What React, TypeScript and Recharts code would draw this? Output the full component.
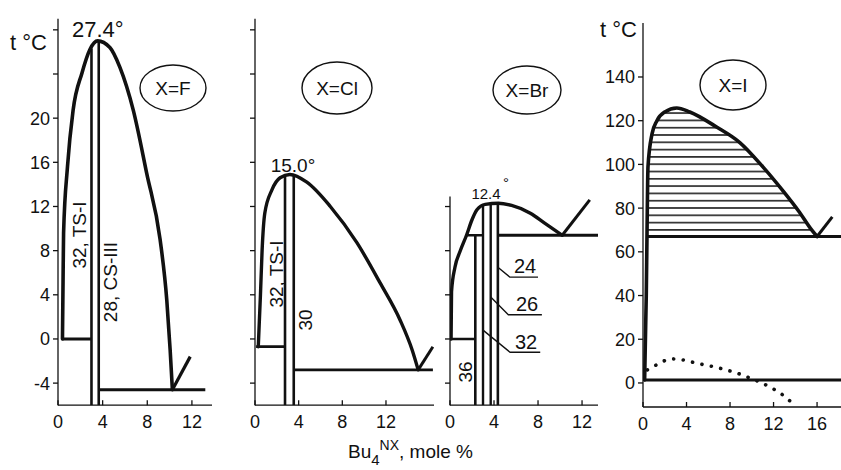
import React from 'react';
import { ComposedChart, Line, Area, XAxis, YAxis } from 'recharts';

const FONT = "'Liberation Sans', Arial, sans-serif";
const INK = '#111';

// ---------- X = F ----------
const fCurve = [
  { x: 0.4, t: 0 }, { x: 0.45, t: 5 }, { x: 0.5, t: 9.6 }, { x: 0.85, t: 15.6 },
  { x: 1.35, t: 20.7 }, { x: 2.15, t: 24.1 }, { x: 2.85, t: 26.2 }, { x: 3.55, t: 27.0 },
  { x: 4.65, t: 26.4 }, { x: 5.55, t: 24.6 }, { x: 6.75, t: 20.7 }, { x: 7.95, t: 15 },
  { x: 9.15, t: 9 }, { x: 9.75, t: 3.5 }, { x: 10.05, t: -1 }, { x: 10.25, t: -4.6 },
];
const fVert1 = [{ x: 3.0, t: -6 }, { x: 3.0, t: 26.3 }];
const fVert2 = [{ x: 3.65, t: -6 }, { x: 3.65, t: 27.0 }];
const fZeroLine = [{ x: 0.4, t: 0 }, { x: 3.0, t: 0 }];
const fEutLine = [{ x: 3.65, t: -4.6 }, { x: 13.2, t: -4.6 }];
const fTick = [{ x: 10.25, t: -4.6 }, { x: 11.85, t: -1.6 }];
const fYTicks = [-4, 0, 4, 8, 12, 16, 20, 24, 28];
const fYLabelMax = 20;
const fXTicks = [0, 4, 8, 12];

// ---------- X = Cl ----------
const clCurve = [
  { x: 0.3, t: -0.7 }, { x: 0.5, t: 4 }, { x: 0.65, t: 8 }, { x: 0.9, t: 11.4 },
  { x: 1.55, t: 13.5 }, { x: 2.3, t: 14.6 }, { x: 3.2, t: 14.9 }, { x: 4.75, t: 14.2 },
  { x: 6.9, t: 12 }, { x: 9.35, t: 8.7 }, { x: 11.45, t: 5.1 }, { x: 13.3, t: 1.7 },
  { x: 14.4, t: -1 }, { x: 14.95, t: -2.8 },
];
const clVert1 = [{ x: 2.75, t: -6 }, { x: 2.75, t: 14.75 }];
const clVert2 = [{ x: 3.55, t: -6 }, { x: 3.55, t: 14.9 }];
const clLowLine = [{ x: 0.1, t: -0.7 }, { x: 2.75, t: -0.7 }];
const clEutLine = [{ x: 3.55, t: -2.8 }, { x: 16.3, t: -2.8 }];
const clTick = [{ x: 14.95, t: -2.8 }, { x: 16.3, t: -0.7 }];
const clYTicks = [-4, 0, 4, 8, 12, 16, 20, 24, 28];
const clXTicks = [0, 4, 8, 12];

// ---------- X = Br ----------
const brCurve = [
  { x: 0.1, t: 0 }, { x: 0.14, t: 4.3 }, { x: 0.45, t: 6.5 }, { x: 0.9, t: 7.9 },
  { x: 1.5, t: 9.4 }, { x: 2.0, t: 10.8 }, { x: 2.45, t: 11.7 }, { x: 3.2, t: 12.2 },
  { x: 4.4, t: 12.3 }, { x: 5.6, t: 12.1 }, { x: 7.3, t: 11.4 }, { x: 8.6, t: 10.5 },
  { x: 10.2, t: 9.4 },
];
const brVert36 = [{ x: 2.3, t: -6 }, { x: 2.3, t: 9.4 }];
const brVert32 = [{ x: 3.0, t: -6 }, { x: 3.0, t: 12.15 }];
const brVert26 = [{ x: 3.7, t: -6 }, { x: 3.7, t: 12.3 }];
const brVert24 = [{ x: 4.35, t: -6 }, { x: 4.35, t: 12.3 }];
const brZeroLine = [{ x: 0.1, t: 0 }, { x: 2.3, t: 0 }];
const brStepLine = [{ x: 1.5, t: 9.4 }, { x: 3.0, t: 9.4 }];
const brEutLine = [{ x: 4.35, t: 9.4 }, { x: 13.45, t: 9.4 }];
const brTick = [{ x: 10.2, t: 9.4 }, { x: 12.7, t: 12.6 }];
const brLead24 = [{ x: 4.35, t: 6.5 }, { x: 5.45, t: 5.6 }, { x: 8.0, t: 5.6 }];
const brLead26 = [{ x: 3.7, t: 3.8 }, { x: 5.3, t: 2.2 }, { x: 8.35, t: 2.2 }];
const brLead32 = [{ x: 3.0, t: 0.8 }, { x: 5.45, t: -1.2 }, { x: 8.2, t: -1.2 }];
const brYTicks = [-4, 0, 4, 8, 12];
const brXTicks = [0, 4, 8, 12];

// ---------- X = I ----------
const iCurve = [
  { x: 0.15, t: 1.4 }, { x: 0.3, t: 40 }, { x: 0.37, t: 68.6 }, { x: 0.46, t: 99 },
  { x: 0.83, t: 114 }, { x: 1.28, t: 120 }, { x: 2.0, t: 124 }, { x: 3.1, t: 125.8 },
  { x: 4.3, t: 124 }, { x: 6.8, t: 117 }, { x: 8.9, t: 110 }, { x: 11.0, t: 99 },
  { x: 12.85, t: 88 }, { x: 14.4, t: 78 }, { x: 15.5, t: 70 }, { x: 16.0, t: 67 },
];
const iHatch = [
  { x: 0.37, t: 67 }, { x: 0.4, t: 80 }, { x: 0.46, t: 99 },
  { x: 0.83, t: 114 }, { x: 1.28, t: 120 }, { x: 2.0, t: 124 }, { x: 3.1, t: 125.8 },
  { x: 4.3, t: 124 }, { x: 6.8, t: 117 }, { x: 8.9, t: 110 }, { x: 11.0, t: 99 },
  { x: 12.85, t: 88 }, { x: 14.4, t: 78 }, { x: 15.5, t: 70 }, { x: 16.0, t: 67 },
];
const iEutLine = [{ x: 0.4, t: 67 }, { x: 18.2, t: 67 }];
const iTick = [{ x: 16.0, t: 67 }, { x: 17.4, t: 76 }];
const iBaseLine = [{ x: 0.1, t: 1.4 }, { x: 18.2, t: 1.4 }];
const iDotted = [
  { x: 0.4, t: 6 }, { x: 0.9, t: 7.3 }, { x: 1.7, t: 9.6 }, { x: 2.75, t: 11 },
  { x: 3.7, t: 10.5 }, { x: 4.8, t: 9.2 }, { x: 5.7, t: 8.2 }, { x: 6.6, t: 7.3 },
  { x: 7.7, t: 5.9 }, { x: 8.6, t: 4.6 }, { x: 9.6, t: 2.7 }, { x: 11.65, t: -1.8 },
  { x: 12.6, t: -4.6 }, { x: 13.2, t: -6.9 }, { x: 13.8, t: -9.6 },
];
const iYTicks = [0, 20, 40, 60, 80, 100, 120, 140];
const iXTicks = [0, 4, 8, 12, 16];

const W = 841;
const H = 470;
const YW = 40; // y-axis band width
const XH = 30; // x-axis band height

function seg(key: string, data: any[], width: number, extra: any = {}) {
  return (
    <Line
      key={key}
      data={data}
      dataKey="t"
      type={extra.type || 'linear'}
      stroke={INK}
      strokeWidth={width}
      dot={false}
      activeDot={false}
      isAnimationActive={false}
      strokeLinecap={extra.cap || 'butt'}
      strokeLinejoin="round"
      strokeDasharray={extra.dash}
    />
  );
}

const tickStyle = { fontSize: 18, fill: INK, fontFamily: FONT };

function axes(
  xDomain: number[], xTicks: number[], yDomain: number[], yTicks: number[],
  yFmt: (v: number) => string,
) {
  return [
    <XAxis
      key="xa" type="number" dataKey="x" domain={xDomain} ticks={xTicks}
      allowDataOverflow height={XH} axisLine={{ stroke: INK, strokeWidth: 1.3 }}
      tickLine={{ stroke: INK, strokeWidth: 1.3 }} tickSize={-5} tickMargin={15}
      tick={tickStyle} interval={0}
    />,
    <YAxis
      key="ya" type="number" domain={yDomain} ticks={yTicks} allowDataOverflow
      width={YW} axisLine={{ stroke: INK, strokeWidth: 1.3 }}
      tickLine={{ stroke: INK, strokeWidth: 1.3 }} tickSize={5} tickMargin={3}
      tick={tickStyle} tickFormatter={yFmt} interval={0}
    />,
  ];
}

const box: React.CSSProperties = { position: 'absolute', left: 0, top: 0 };

function m(left: number, right: number, top: number, bottom: number) {
  return { left: left - YW, right, top, bottom: bottom - XH };
}

export default function App() {
  return (
    <div style={{ position: 'absolute', left: 0, top: 0, width: W, height: H, background: '#fff', overflow: 'hidden' }}>
      {/* X = F */}
      <div style={box}>
        <ComposedChart width={W} height={H} margin={m(58, 629, 18.8, 64.8)}>
          {axes([0, 13.8], fXTicks, [-6, 29], fYTicks, (v) => (v <= fYLabelMax ? String(v) : ''))}
          {seg('fz', fZeroLine, 3)}
          {seg('fe', fEutLine, 3.2)}
          {seg('fv1', fVert1, 2.6)}
          {seg('fv2', fVert2, 2.6)}
          {seg('ft', fTick, 3.2)}
          {seg('fc', fCurve, 3.6, { type: 'monotone', cap: 'round' })}
        </ComposedChart>
      </div>
      {/* X = Cl */}
      <div style={box}>
        <ComposedChart width={W} height={H} margin={m(255, 407, 18.8, 64.8)}>
          {axes([0, 16.4], clXTicks, [-6, 29], clYTicks, () => '')}
          {seg('cz', clLowLine, 2.8)}
          {seg('ce', clEutLine, 2.8)}
          {seg('cv1', clVert1, 2.6)}
          {seg('cv2', clVert2, 2.6)}
          {seg('ct', clTick, 3)}
          {seg('cc', clCurve, 3.4, { type: 'monotone', cap: 'round' })}
        </ComposedChart>
      </div>
      {/* X = Br */}
      <div style={box}>
        <ComposedChart width={W} height={H} margin={m(450, 243, 196.6, 64.8)}>
          {axes([0, 13.45], brXTicks, [-6, 12.9], brYTicks, () => '')}
          {seg('bz', brZeroLine, 2.6)}
          {seg('bs', brStepLine, 2.6)}
          {seg('be', brEutLine, 3)}
          {seg('bv36', brVert36, 2.6)}
          {seg('bv32', brVert32, 2.4)}
          {seg('bv26', brVert26, 2.4)}
          {seg('bv24', brVert24, 2.6)}
          {seg('bt', brTick, 3)}
          {seg('bl24', brLead24, 1.4)}
          {seg('bl26', brLead26, 1.4)}
          {seg('bl32', brLead32, 1.4)}
          {seg('bc', brCurve, 3.4, { type: 'monotone', cap: 'round' })}
        </ComposedChart>
      </div>
      {/* X = I */}
      <div style={box}>
        <ComposedChart width={W} height={H} margin={m(643, 0, 23, 63)}>
          <defs>
            <pattern id="hatchI" width="10" height="7.3" patternUnits="userSpaceOnUse">
              <line x1="0" y1="3.6" x2="10" y2="3.6" stroke={INK} strokeWidth="1.5" />
            </pattern>
          </defs>
          {axes([0, 18.2], iXTicks, [-11, 164.7], iYTicks, (v) => String(v))}
          <Area
            data={iHatch} dataKey="t" type="monotone" baseValue={67} stroke="none"
            fill="url(#hatchI)" fillOpacity={1} isAnimationActive={false} dot={false} activeDot={false}
          />
          {seg('ib', iBaseLine, 3)}
          {seg('ie', iEutLine, 3)}
          {seg('it', iTick, 3)}
          {seg('id', iDotted, 3.6, { type: 'monotone', cap: 'round', dash: '0.1 9.5' })}
          {seg('ic', iCurve, 3.6, { type: 'monotone', cap: 'round' })}
        </ComposedChart>
      </div>
      {/* annotations */}
      <svg width={W} height={H} style={{ ...box, pointerEvents: 'none' }} fontFamily={FONT} fill={INK}>
        <text x={10} y={50} fontSize={22}>t °C</text>
        <text x={72} y={37} fontSize={22}>27.4°</text>
        <ellipse cx={173} cy={88} rx={33} ry={23} fill="none" stroke={INK} strokeWidth={1.4} />
        <text x={173} y={95} fontSize={19} textAnchor="middle">X=F</text>
        <text x={0} y={0} fontSize={19} textAnchor="middle" transform="translate(86,235) rotate(-90)">32, TS-I</text>
        <text x={0} y={0} fontSize={19} textAnchor="middle" transform="translate(117,282) rotate(-90)">28, CS-III</text>

        <text x={293} y={172} fontSize={19} textAnchor="middle">15.0°</text>
        <ellipse cx={337} cy={88} rx={35} ry={26} fill="none" stroke={INK} strokeWidth={1.4} />
        <text x={337} y={95} fontSize={19} textAnchor="middle">X=Cl</text>
        <text x={0} y={0} fontSize={19} textAnchor="middle" transform="translate(283,274) rotate(-90)">32, TS-I</text>
        <text x={0} y={0} fontSize={19} textAnchor="middle" transform="translate(312,320) rotate(-90)">30</text>

        <text x={486} y={199} fontSize={15} textAnchor="middle">12.4</text>
        <text x={506} y={188} fontSize={15} textAnchor="middle">°</text>
        <ellipse cx={527} cy={90} rx={34} ry={24} fill="none" stroke={INK} strokeWidth={1.4} />
        <text x={527} y={97} fontSize={19} textAnchor="middle">X=Br</text>
        <text x={525} y={273} fontSize={20} textAnchor="middle">24</text>
        <text x={527} y={311} fontSize={20} textAnchor="middle">26</text>
        <text x={526} y={349} fontSize={20} textAnchor="middle">32</text>
        <text x={0} y={0} fontSize={19} textAnchor="middle" transform="translate(472,372) rotate(-90)">36</text>

        <text x={600} y={37} fontSize={22}>t °C</text>
        <ellipse cx={733} cy={85} rx={33} ry={25} fill="none" stroke={INK} strokeWidth={1.4} />
        <text x={733} y={92} fontSize={19} textAnchor="middle">X=I</text>

        <text x={348} y={458} fontSize={19}>
          Bu<tspan fontSize={15} dy={7}>4</tspan><tspan fontSize={14} dy={-15}>NX</tspan><tspan dy={8}>, mole %</tspan>
        </text>
      </svg>
    </div>
  );
}
